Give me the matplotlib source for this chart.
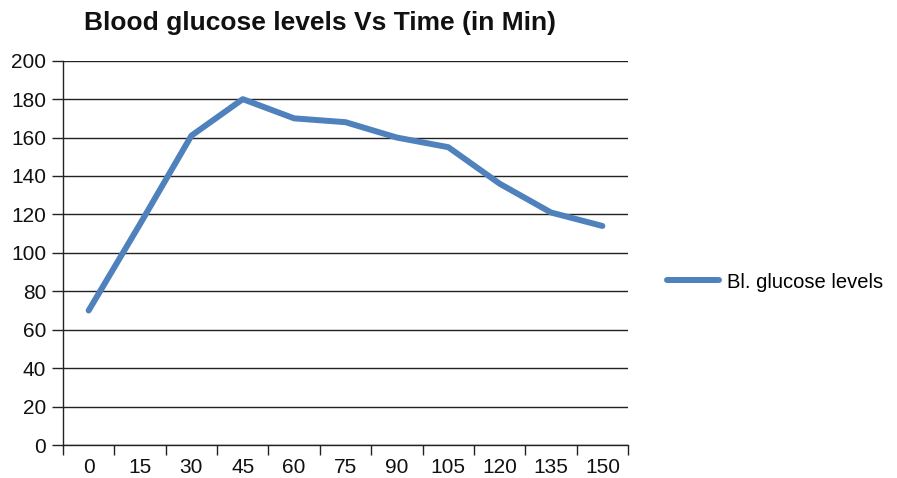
import numpy as np
import matplotlib.pyplot as plt

plt.rcParams['font.family'] = ['Liberation Sans', 'DejaVu Sans']

# time in minutes and blood glucose readings
times = [0, 15, 30, 45, 60, 75, 90, 105, 120, 135, 150]
glucose = [70, 115, 161, 180, 170, 168, 160, 155, 136, 121, 114]
series_name = 'Bl. glucose levels'
y_ticks = [0, 20, 40, 60, 80, 100, 120, 140, 160, 180, 200]

fig = plt.figure(figsize=(8.97, 4.78), dpi=100)
ax = fig.add_axes([0.0702, 0.069, 0.630, 0.804])

pos = np.arange(len(times))
line, = ax.plot(pos, glucose, color='#4F81BD', lw=4.3, solid_capstyle='round',
                solid_joinstyle='round', zorder=3)

ax.set_xlim(-0.5, len(times) - 0.5)
ax.set_ylim(0, 200)
ax.set_yticks(y_ticks)
ax.yaxis.grid(True, color='#222222', lw=1.0)
ax.set_axisbelow(True)

# category boundaries get tick marks, labels sit in the middle
ax.set_xticks(np.arange(-0.5, len(times), 1.0))
ax.set_xticklabels([])
ax.set_xticks(pos, minor=True)
ax.set_xticklabels([str(t) for t in times], minor=True)
ax.tick_params(axis='x', which='major', length=7, width=1, color='#222222')
ax.tick_params(axis='x', which='minor', length=0, pad=9, labelsize=15, colors='#111111')
ax.tick_params(axis='y', length=8, width=1, color='#222222', labelsize=15, pad=4,
               labelcolor='#111111')

for s in ['top', 'right']:
    ax.spines[s].set_visible(False)
for s in ['left', 'bottom']:
    ax.spines[s].set_color('#222222')
    ax.spines[s].set_linewidth(1.0)

fig.text(0.357, 0.952, 'Blood glucose levels Vs Time (in Min)', ha='center', va='center',
         fontsize=19, fontweight='bold', color='#111111')

fig.legend([line], [series_name], loc='center left', bbox_to_anchor=(0.723, 0.41),
           frameon=False, fontsize=14.5, handlelength=2.6, handletextpad=0.4)

fig.savefig('out.png', dpi=100)
